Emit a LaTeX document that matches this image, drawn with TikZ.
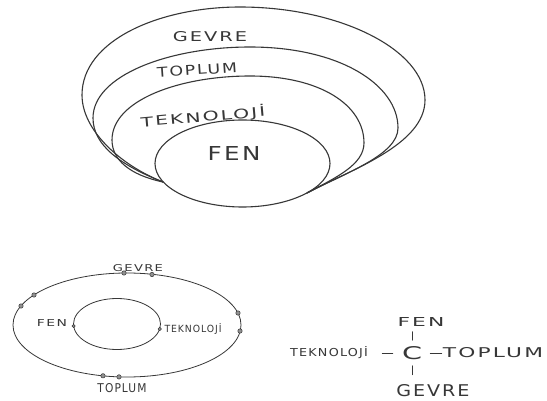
\documentclass[tikz,border=0pt]{standalone}
\usepackage{fontspec}
\usepackage{graphicx}
\setmainfont{DejaVu Sans}
\newfontfamily\handfont[LetterSpace=10]{DejaVu Sans}
\newcommand{\hlab}[3]{\resizebox{#1pt}{#2pt}{\handfont #3}}
\definecolor{ink}{RGB}{55,55,55}
\begin{document}
\begin{tikzpicture}[x=1pt,y=-1pt,line cap=round,line join=round,
  ring/.style={draw=ink,line width=1.1pt},
  thinring/.style={draw=ink,line width=0.8pt},
  lab/.style={text=ink,inner sep=0pt},
  dot/.style={circle,fill=ink!55,draw=ink,line width=0.5pt,inner sep=0pt,minimum size=4.4pt},
  conn/.style={draw=ink,line width=0.8pt}]
\useasboundingbox (0,0) rectangle (547,401);
\fill[white] (0,0) rectangle (547,401);

% ---------- top nested figure ----------
\draw[ring] (163,182) .. controls (120,165) and (82,130) .. (82,95)
  .. controls (82,40) and (160,7) .. (240,7)
  .. controls (340,7) and (425,50) .. (425,100)
  .. controls (425,145) and (350,170) .. (307,193);
\draw[ring] (163,182) .. controls (120,165) and (93,145) .. (93,118)
  .. controls (93,75) and (170,47) .. (250,47)
  .. controls (340,47) and (398,85) .. (398,128)
  .. controls (398,155) and (345,173) .. (307,193);
\draw[ring] (163,182) .. controls (130,175) and (112,160) .. (112,140)
  .. controls (112,100) and (180,76) .. (250,76)
  .. controls (320,76) and (364,105) .. (364,143)
  .. controls (364,165) and (335,178) .. (307,193);
\draw[ring] (242.5,163.5) ellipse [x radius=87.5,y radius=43.5];

\node[lab] (tcevre) at (210,37) {\hlab{74}{10}{GEVRE}};
\node[lab,rotate=4] (ttoplum) at (197,70) {\hlab{80}{10}{TOPLUM}};
\node[lab,rotate=5] (ttekno) at (203,117) {\hlab{125}{12}{TEKNOLOJİ}};
\node[lab] (tfen) at (234,154) {\hlab{53}{14}{FEN}};

% ---------- bottom-left ring figure ----------
\draw[thinring] (127,325) ellipse [x radius=114,y radius=52];
\draw[thinring] (117,324) ellipse [x radius=43.5,y radius=25.5];
\node[dot] (d1) at (124,273) {};
\node[dot] (d2) at (152,274.5) {};
\node[dot] (d3) at (34,295) {};
\node[dot] (d4) at (21,306) {};
\node[dot] (d5) at (238,313) {};
\node[dot] (d6) at (240,331) {};
\node[dot] (d7) at (103,375.8) {};
\node[dot] (d8) at (119,376.9) {};
\node[dot,minimum size=3.4pt] (d9) at (73.6,326) {};
\node[dot,minimum size=3.4pt] (d10) at (159.7,329) {};
\node[lab] (bcevre) at (138,268) {\hlab{50}{7}{GEVRE}};
\node[lab] (bfen) at (52,323) {\hlab{30}{7}{FEN}};
\node[lab] (btekno) at (193,329) {\hlab{57}{9}{TEKNOLOJİ}};
\node[lab] (btoplum) at (122,388) {\hlab{49}{9}{TOPLUM}};

% ---------- bottom-right C figure ----------
\node[lab] (cc) at (412,353) {\hlab{20}{13}{C}};
\node[lab] (cfen) at (421,322) {\hlab{47}{9}{FEN}};
\node[lab] (ctekno) at (329,353) {\hlab{78}{10}{TEKNOLOJİ}};
\node[lab] (ctoplum) at (493,353) {\hlab{100}{10}{TOPLUM}};
\node[lab] (ccevre) at (433,391) {\hlab{73}{12}{GEVRE}};
\draw[conn,shorten <=6pt,shorten >=5pt] (cc.north) -- (cc.north |- cfen.south);
\draw[conn,shorten <=6pt,shorten >=10pt] (cc.south) -- (cc.south |- ccevre.north);
\draw[conn,shorten <=9pt,shorten >=14pt] (cc.west) -- (cc.west -| ctekno.east);
\draw[conn,shorten <=8pt,shorten >=1pt] (cc.east) -- (cc.east -| ctoplum.west);
\end{tikzpicture}
\end{document}
